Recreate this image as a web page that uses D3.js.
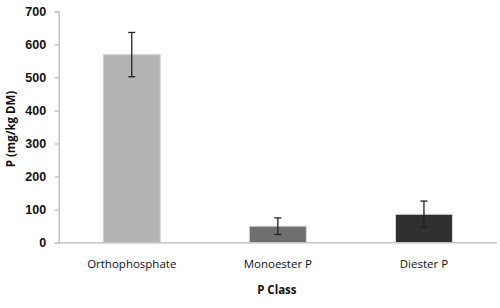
<!DOCTYPE html>
<html>
<head>
<meta charset="utf-8">
<script src="https://cdn.jsdelivr.net/npm/d3@7"></script>
<style>
  body { margin: 0; background: #fff; }
  svg { font-family: "Open Sans", "DejaVu Sans", sans-serif; }
</style>
</head>
<body>
<div id="chart"></div>
<script>
const categories = ["Orthophosphate", "Monoester P", "Diester P"];
const values = [569, 50, 86];
const errors = [67, 25, 40];
const barColors = ["#b4b4b4", "#6f6f6f", "#303030"];
const yTicks = [0, 100, 200, 300, 400, 500, 600, 700];

const width = 500, height = 308;
const margin = { top: 11.3, right: 3, bottom: 65.3, left: 58.7 };

const svg = d3.select("#chart").append("svg")
    .attr("width", width).attr("height", height);

const x = d3.scaleBand().domain(categories)
    .range([margin.left, width - margin.right])
    .paddingInner(0.61).paddingOuter(0.305);
const y = d3.scaleLinear().domain([0, 700])
    .range([height - margin.bottom, margin.top]);

// y axis
svg.append("g").attr("transform", `translate(${margin.left},0)`)
    .call(d3.axisLeft(y).tickValues(yTicks).tickSize(4).tickPadding(8.5))
    .call(g => g.select(".domain").attr("stroke", "#c4c4c4").attr("stroke-width", 1.5))
    .call(g => g.selectAll("line").attr("stroke", "#c4c4c4").attr("stroke-width", 1.5))
    .call(g => g.selectAll("text").attr("font-size", "12.5px").attr("font-weight", "bold").attr("fill", "#111"));

// bars
svg.append("g").selectAll("rect")
    .data(categories).join("rect")
    .attr("x", d => x(d))
    .attr("y", (d, i) => y(values[i]))
    .attr("width", x.bandwidth())
    .attr("height", (d, i) => y(0) - y(values[i]))
    .attr("fill", (d, i) => barColors[i])
    .attr("stroke", "#d6d6d6")
    .attr("stroke-width", 1);

// x axis line
svg.append("line")
    .attr("x1", margin.left).attr("x2", width - margin.right)
    .attr("y1", y(0)).attr("y2", y(0))
    .attr("stroke", "#c4c4c4").attr("stroke-width", 1.5);

// error bars
const eb = svg.append("g").attr("stroke", "#222").attr("stroke-width", 1.3);
categories.forEach((c, i) => {
    const cx = x(c) + x.bandwidth() / 2;
    const hi = y(values[i] + errors[i]), lo = y(values[i] - errors[i]);
    eb.append("line").attr("x1", cx).attr("x2", cx).attr("y1", hi).attr("y2", lo);
    eb.append("line").attr("x1", cx - 3.5).attr("x2", cx + 3.5).attr("y1", hi).attr("y2", hi);
    eb.append("line").attr("x1", cx - 3.5).attr("x2", cx + 3.5).attr("y1", lo).attr("y2", lo);
});

// category labels
svg.append("g").selectAll("text")
    .data(categories).join("text")
    .attr("x", d => x(d) + x.bandwidth() / 2)
    .attr("y", 268)
    .attr("text-anchor", "middle")
    .attr("font-size", "11.5px")
    .attr("fill", "#111")
    .text(d => d);

// axis titles
svg.append("text")
    .attr("x", (margin.left + width - margin.right) / 2 - 1)
    .attr("y", 294)
    .attr("text-anchor", "middle")
    .attr("font-size", "11.5px").attr("font-weight", "bold").attr("fill", "#111")
    .text("P Class");

svg.append("text")
    .attr("transform", `translate(15,${(margin.top + height - margin.bottom) / 2 + 2}) rotate(-90)`)
    .attr("text-anchor", "middle")
    .attr("font-size", "11.5px").attr("font-weight", "bold").attr("fill", "#111")
    .text("P (mg/kg DM)");
</script>
</body>
</html>
